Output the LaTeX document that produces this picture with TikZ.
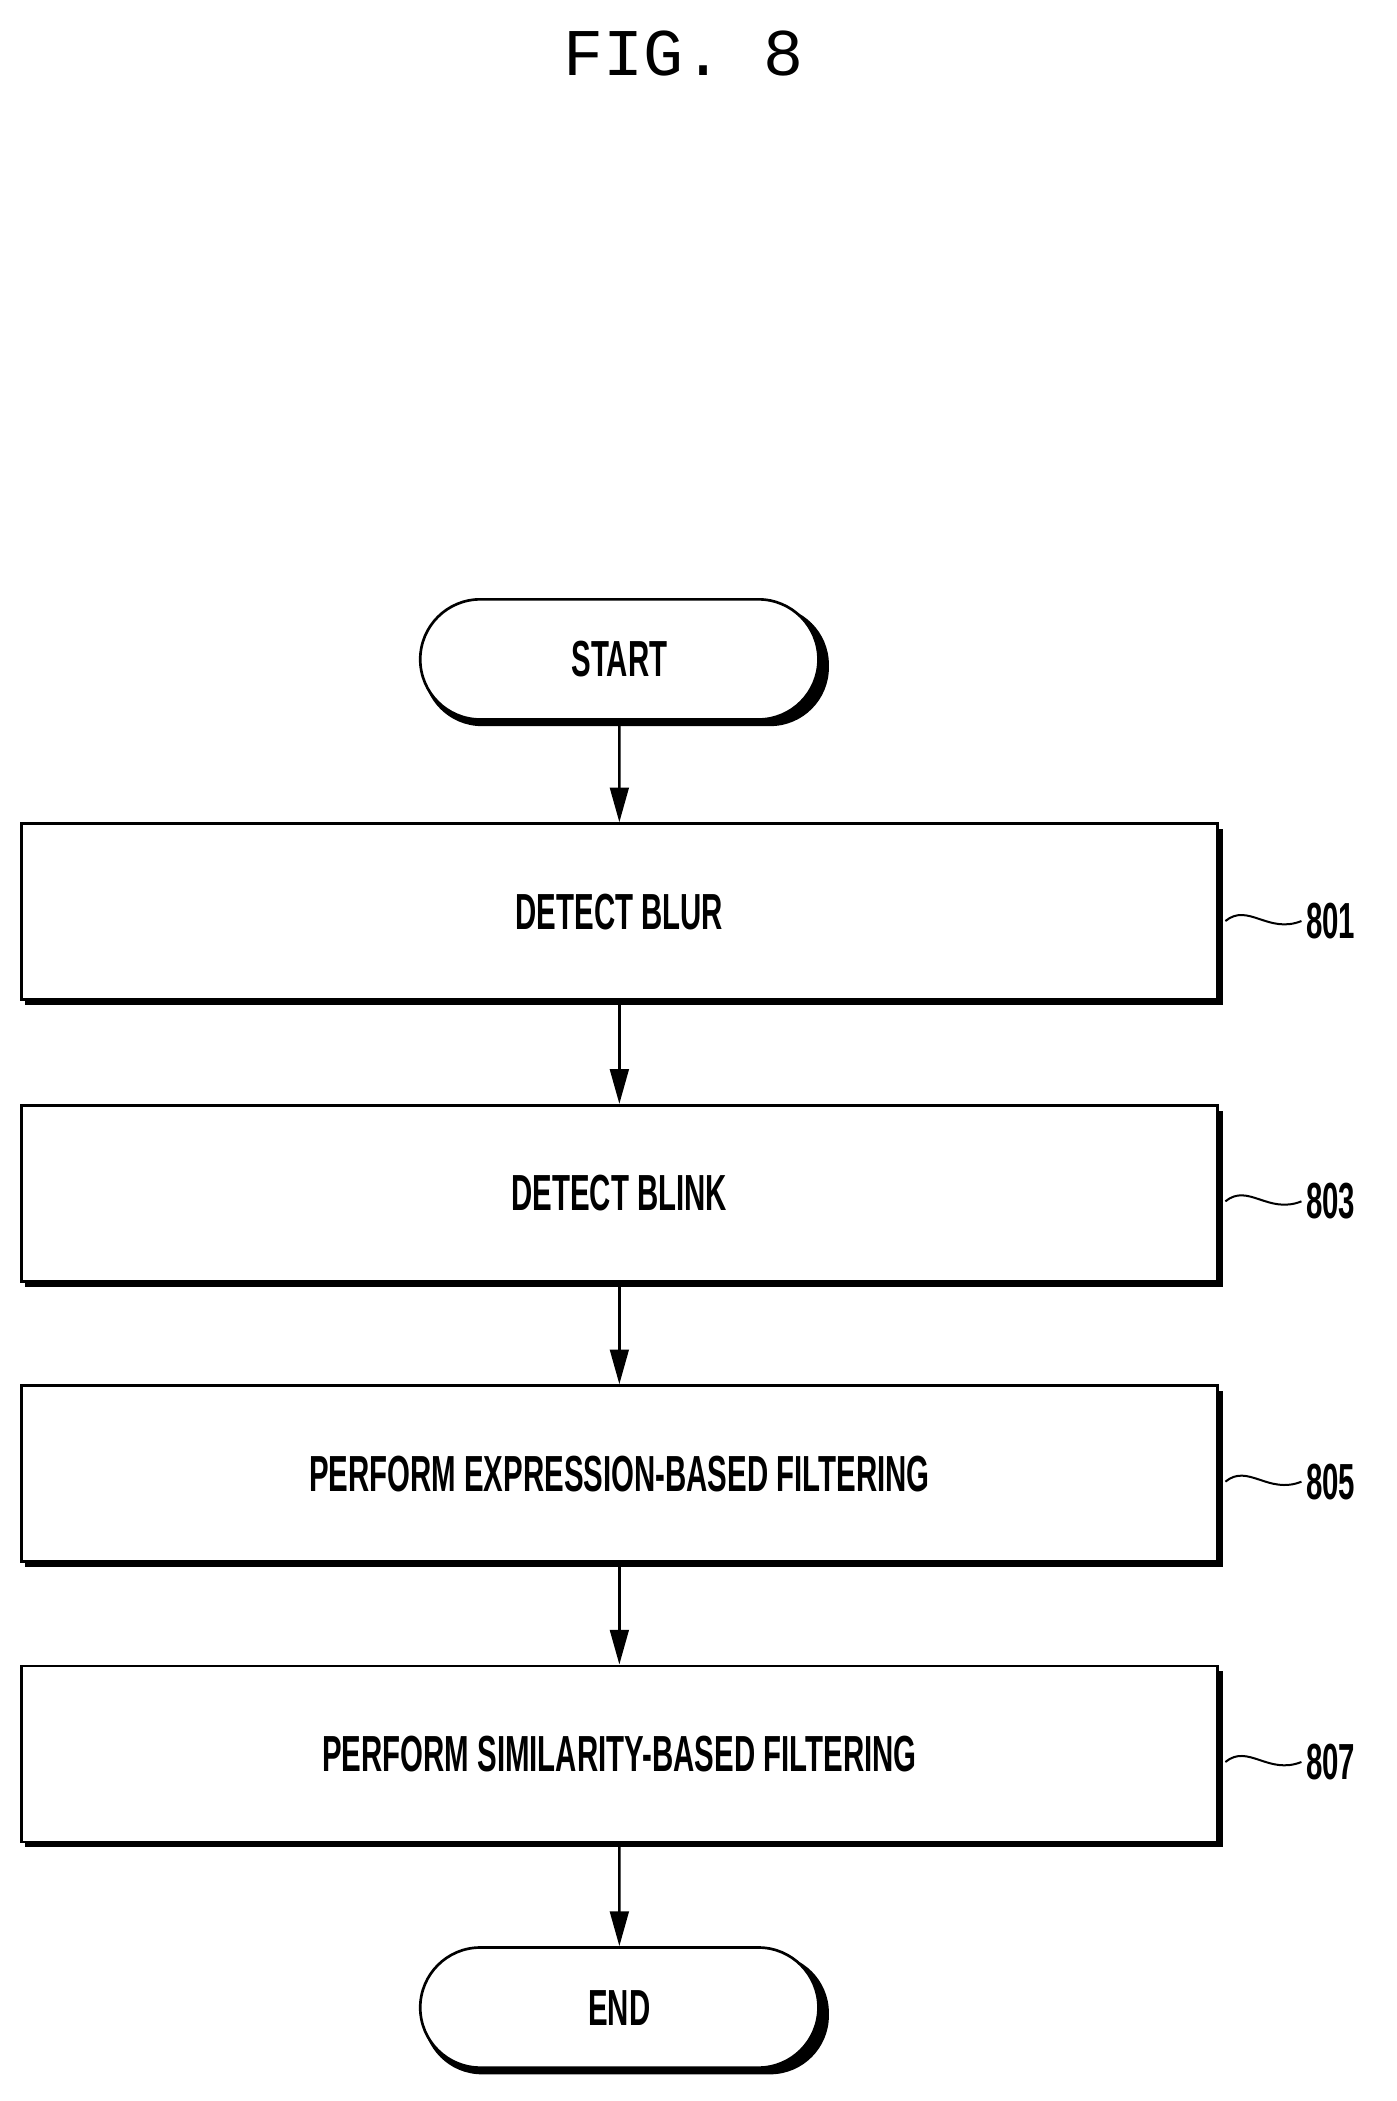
\documentclass[tikz,border=0pt]{standalone}
\usepackage{fontspec}
\setmainfont{Liberation Sans}[FakeStretch=0.58]
\newfontfamily\titlefont{Liberation Mono}
\usetikzlibrary{arrows.meta,shapes.misc,decorations.pathmorphing}
\begin{document}
\begin{tikzpicture}[x=1pt,y=-1pt,
  lab/.style={font=\fontsize{38}{38}\selectfont\bfseries},
  box/.style={draw,line width=2pt,fill=white,minimum width=896pt,minimum height=132pt,lab},
  term/.style={draw,line width=2pt,fill=white,rounded rectangle,minimum width=305pt,minimum height=90pt,lab},
  arr/.style={line width=2pt,-{Triangle[length=26pt,width=14pt]}},
  ref/.style={lab,anchor=west}]
\useasboundingbox (0,0) rectangle (1046,1574);
\node[font=\titlefont\fontsize{50}{50}\selectfont] (title) at (512,40) {FIG. 8};
\foreach \n/\y in {start/494,endn/1504}{
  \fill[rounded corners=44pt] (317,\y-40) rectangle (621,\y+50);}
\foreach \y in {683,894,1104,1314}{\fill (19,\y-62) rectangle (916,\y+70);}
\node[term] (start) at (464,494) {START};
\node[box] (b1) at (464,683) {DETECT BLUR};
\node[box] (b2) at (464,894) {DETECT BLINK};
\node[box] (b3) at (464,1104) {PERFORM EXPRESSION-BASED FILTERING};
\node[box] (b4) at (464,1314) {PERFORM SIMILARITY-BASED FILTERING};
\node[term] (endn) at (464,1504) {END};
\draw[arr] (start) -- (b1);
\draw[arr] (b1) -- (b2);
\draw[arr] (b2) -- (b3);
\draw[arr] (b3) -- (b4);
\draw[arr] (b4) -- (endn);
\foreach \b/\t/\y in {b1/801/690,b2/803/900,b3/805/1110,b4/807/1320}{
  \node[ref] (r\t) at (975,\y) {\t};
  \coordinate (s\t) at (918,\y);
  \draw[line width=1.5pt] (s\t) .. controls (935,\y-14) and (950,\y+10) .. (r\t.west);
}
\end{tikzpicture}
\end{document}
